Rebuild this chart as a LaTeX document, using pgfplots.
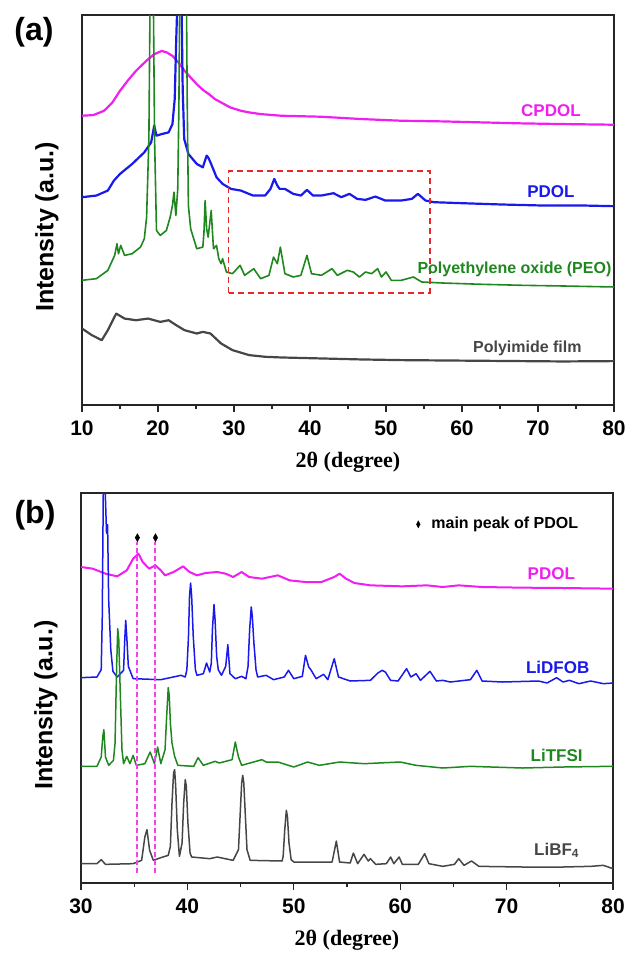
\documentclass[border=0pt]{standalone}
\usepackage{fontspec}
\setmainfont{Liberation Sans}
\newfontfamily\serifb{Liberation Serif}
\usepackage{pgfplots}
\pgfplotsset{compat=1.18}

\definecolor{cMag}{RGB}{240,30,240}
\definecolor{cBlue}{RGB}{25,25,235}
\definecolor{cGreen}{RGB}{30,135,30}
\definecolor{cGrey}{RGB}{70,70,70}
\definecolor{cRed}{RGB}{230,40,40}

\pgfplotsset{
  xrdframe/.style={
    scale only axis, width=532pt, height=390pt,
    axis line style={line width=1.2pt, black!85},
    ytick=\empty,
    xtick pos=bottom,
    tick align=outside,
    major tick length=7pt, minor tick length=4pt,
    minor x tick num=1,
    every tick/.style={line width=1.2pt, black!85},
    /pgf/number format/assume math mode=true,
    xticklabel style={font=\bfseries\fontsize{21}{21}\selectfont, yshift=-5pt},
    xlabel={\serifb\bfseries 2θ (degree)},
    xlabel style={font=\fontsize{22}{22}\selectfont, at={(axis description cs:0.5,-0.148)}, anchor=center},
    ylabel={Intensity (a.u.)},
    ylabel style={font=\bfseries\fontsize{25}{25}\selectfont, at={(axis description cs:-0.066,0.456)}, anchor=center},
    ymin=0,
  },
}
\tikzset{
  lab/.style={font=\bfseries\fontsize{17}{17}\selectfont},
  labs/.style={font=\bfseries\fontsize{16}{16}\selectfont},
}

\begin{document}
\begin{tikzpicture}
\path[use as bounding box] (0,0) rectangle (630pt,-956pt);

\node[font=\bfseries\fontsize{32}{32}\selectfont] at (34pt,-32pt) {(a)};
\node[font=\bfseries\fontsize{32}{32}\selectfont] at (35pt,-515pt) {(b)};

% ---------------- panel (a)
\begin{axis}[xrdframe, at={(82pt,-15pt)}, anchor=north west,
  xmin=10, xmax=80, ymax=1173, xtick={10,20,...,80}]

% polyimide film
\addplot[cGrey, line width=2.2pt, line join=round] table {
10 230
11.3 210
12.6 195
13.4 225
14.5 275
15.6 260
17.1 255
18.7 260
20.3 250
21.4 255
22.4 240
23.5 225
25.1 215
25.9 220
26.9 215
28.3 185
29.8 165
32 150
34.1 145
36.2 143
41.5 140
46.8 137
52 135
62.6 133
73.2 131
80 132
};

% CPDOL
\addplot[cMag, line width=2.2pt, line join=round] table {
10 870
11.5 872
12.9 885
14 910
15 945
16 975
17.1 1005
18 1025
18.7 1040
19.5 1055
20.5 1065
21.2 1060
21.9 1050
22.7 1030
23.5 1005
24.3 985
25.1 965
25.9 948
26.7 935
27.5 920
28.3 910
29.5 895
30.9 885
32 880
33.5 875
36.2 870
41.5 867
46.8 860
52 855
57.4 853
62.6 850
67.9 847
73.2 845
80 843
};

% PDOL
\addplot[cBlue, line width=2.2pt, line join=round] table {
10 625
11.9 630
13.4 645
14.2 675
15 695
16.6 725
18.2 760
19.1 790
19.5 840
19.8 810
20.5 815
21.4 820
21.9 845
22.2 920
22.4 1100
22.8 1400
23.1 1200
23.25 950
23.45 800
24 755
25.1 725
25.9 715
26.4 750
26.6 745
26.9 730
27.7 685
28.5 665
29.6 650
30.9 645
32.5 630
34.1 630
34.8 650
35.3 680
35.7 660
36 650
36.7 650
37.8 635
38.8 630
39.6 647
40.4 630
41.5 630
43.1 637
44.1 625
45.2 635
46.2 620
47.3 617
48.6 627
49.9 615
52 615
53.4 620
54.2 635
55.2 615
56.3 610
60 607
65.3 603
70.6 600
75.9 600
80 598
};

% PEO
\addplot[cGreen, line width=1.6pt, line join=round] table {
10 375
11.9 380
13.4 405
14.3 450
14.6 485
14.8 455
15.1 480
15.6 450
16.6 455
17.7 475
18.2 500
18.5 565
18.8 800
18.95 1200
19.2 1500
19.4 1200
19.55 800
19.8 525
20.3 510
21.1 525
21.6 565
21.9 600
22.1 640
22.35 570
22.6 650
22.75 900
22.85 1200
23.3 1500
23.75 1200
23.85 900
24.0 600
24.3 530
25.1 470
25.9 475
26.05 520
26.2 615
26.4 530
26.6 505
27.0 585
27.3 470
27.7 480
28.0 440
28.3 425
28.5 440
29.0 400
29.8 395
30.8 420
31.4 390
32.6 410
33.5 380
34.6 390
35.2 445
35.7 425
36.1 475
36.7 395
37.8 385
38.8 390
39.6 450
40.2 395
41.5 390
42.9 410
43.6 390
44.9 405
45.7 400
46.5 385
47.3 400
48.1 395
48.9 410
49.4 385
50.0 400
50.7 375
52 375
53.6 385
54.7 370
57.4 367
62.6 363
67.9 360
73.2 358
80 355
};

\draw[cRed, line width=1.6pt, dash pattern=on 6pt off 4pt] (axis cs:29.3,337) rectangle (axis cs:55.76,703);

\node[lab, text=cMag] at (axis cs:71.7,885) {CPDOL};
\node[lab, text=cBlue] at (axis cs:71.7,643) {PDOL};
\node[labs, text=cGreen] at (axis cs:66.9,407) {Polyethylene oxide (PEO)};
\node[labs, text=cGrey] at (axis cs:68.6,170) {Polyimide film};
\end{axis}

% ---------------- panel (b)
\begin{axis}[xrdframe, at={(81pt,-493pt)}, anchor=north west,
  xmin=30, xmax=80, ymax=1170, xtick={30,40,...,80}]

% PDOL
\addplot[cMag, line width=2pt, line join=round] table {
30 948
31.1 943
32.3 928
33.4 920
34.3 938
34.9 973
35.4 988
35.8 963
36.4 943
37.0 953
37.5 938
37.9 923
38.7 933
39.6 950
40.2 933
40.9 923
41.7 930
42.8 933
43.6 928
44.3 918
45.1 933
45.8 918
47.0 913
48.5 923
49.6 908
51.1 903
52.6 903
53.8 918
54.3 928
54.9 913
55.7 900
57.2 893
60.2 890
62.5 893
64 888
65.5 893
67.7 888
71.5 886
75.3 885
80 883
};

% LiDFOB
\addplot[cBlue, line width=1.5pt, line join=round] table {
30 616
31.5 618
31.9 640
32.0 800
32.1 1200
32.2 1300
32.3 1150
32.4 1050
32.5 1075
32.6 850
32.8 700
33.0 635
33.4 618
34.0 638
34.1 720
34.2 788
34.3 740
34.45 650
34.9 613
37.5 610
39.4 623
39.8 618
39.95 640
40.1 738
40.2 860
40.3 900
40.4 860
40.55 740
40.75 640
40.9 623
41.5 628
41.8 660
42.1 633
42.25 660
42.35 760
42.5 835
42.6 790
42.75 680
42.9 640
43.2 623
43.6 650
43.8 715
44.0 628
44.5 613
45.1 620
45.5 613
45.7 650
45.85 760
46.0 828
46.1 800
46.25 720
46.45 640
46.6 618
47.4 623
48.1 610
49.1 618
49.5 638
50.0 613
50.8 620
51.1 683
51.4 648
51.6 640
52.1 613
52.8 626
53.2 610
53.8 673
54.2 618
55.3 606
57.2 608
57.9 630
58.3 638
58.6 633
59.1 608
59.8 606
60.6 643
61.0 618
61.5 628
61.9 608
62.8 635
63.4 606
64.0 608
64.7 603
66.6 610
67.2 638
67.7 606
69.6 603
73.0 606
73.8 600
74.7 616
75.3 603
75.9 608
76.8 598
77.9 606
79.1 598
80 600
};

% LiTFSI
\addplot[cGreen, line width=1.5pt, line join=round] table {
30 350
31.5 350
31.9 378
32.05 440
32.15 460
32.3 378
32.6 353
33.05 368
33.2 420
33.35 650
33.45 763
33.55 730
33.7 560
33.85 400
34.0 358
34.3 380
34.6 358
34.9 383
35.2 353
36.0 358
36.5 393
36.9 358
37.2 408
37.5 358
37.9 400
38.05 500
38.2 586
38.3 560
38.4 480
38.55 420
38.8 380
39.1 353
40.6 350
41.0 376
41.5 353
42.6 365
43.0 360
44.2 370
44.5 423
44.8 378
45.1 353
47.0 370
47.4 363
48.5 363
50.0 348
51.3 363
52.4 353
54.3 363
56.6 358
60.0 363
61.5 353
64.0 345
66.6 350
71.5 345
75.3 348
79.8 350
80 350
};

% LiBF4
\addplot[cGrey, line width=1.5pt, line join=round] table {
30 58
31.5 58
31.9 70
32.3 56
34.9 58
35.7 68
36.0 138
36.2 160
36.45 98
36.8 68
37.5 76
38.2 83
38.4 110
38.55 238
38.7 330
38.8 340
38.9 290
39.05 160
39.25 80
39.5 120
39.65 240
39.8 310
39.9 290
40.05 180
40.25 90
40.4 78
42.1 73
42.8 78
44.3 68
44.8 100
44.95 200
45.1 300
45.2 323
45.3 300
45.45 200
45.6 100
45.9 68
48.9 66
49.0 80
49.15 160
49.3 218
49.4 200
49.55 120
49.75 70
50.0 63
53.6 63
54.0 126
54.3 63
55.3 60
55.6 90
56.0 58
56.6 86
57.0 66
57.2 73
57.7 56
58.7 58
59.1 78
59.4 58
59.9 78
60.2 56
61.7 56
62.3 88
62.7 58
64.0 50
65.1 56
65.5 73
66.0 53
66.7 66
67.4 50
71.5 48
75.3 48
77.9 50
79.1 53
80 43
};

% guide lines at the main PDOL peaks
\addplot[cMag!85, line width=2pt, dash pattern=on 5pt off 3pt] coordinates {(35.3,30) (35.3,1023)};
\addplot[cMag!85, line width=2pt, dash pattern=on 5pt off 3pt] coordinates {(37.0,30) (37.0,1023)};
\addplot[only marks, mark=diamond*, mark size=4pt, black, mark options={xscale=0.75}] coordinates {(35.3,1036) (37.0,1036)};
\addplot[only marks, mark=diamond*, mark size=3.5pt, black, mark options={xscale=0.7}] coordinates {(61.7,1076)};

\node[labs, anchor=west, text=black] at (axis cs:62.6,1076) {main peak of PDOL};
\node[lab, text=cMag] at (axis cs:74.2,928) {PDOL};
\node[lab, text=cBlue] at (axis cs:74.8,646) {LiDFOB};
\node[lab, text=cGreen] at (axis cs:74.7,383) {LiTFSI};
\node[lab, text=cGrey] at (axis cs:74.7,98) {LiBF\textsubscript{4}};
\end{axis}
\end{tikzpicture}
\end{document}
